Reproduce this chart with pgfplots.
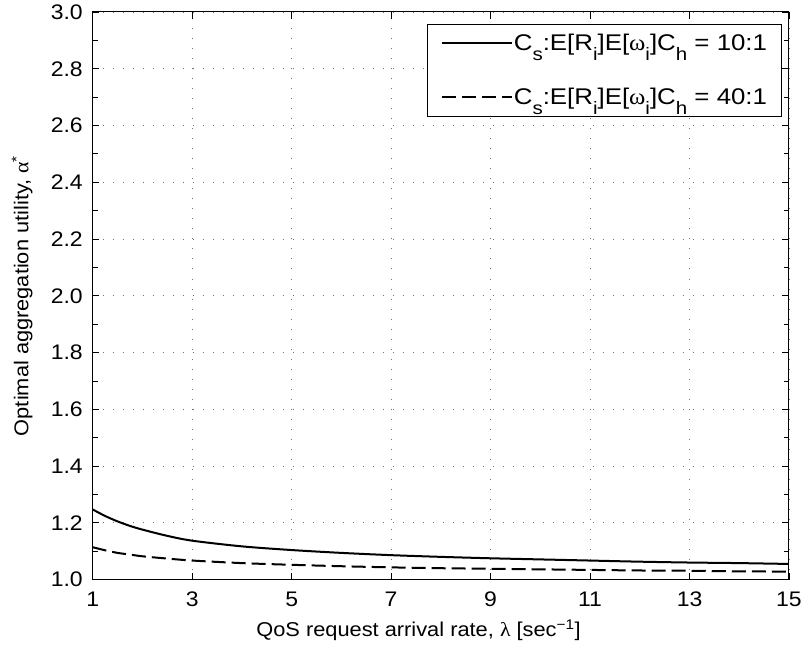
\documentclass[border=0pt]{standalone}
\usepackage{fontspec}
\setmainfont{Liberation Sans}[FakeStretch=1.09]
\newfontfamily\symf{Liberation Serif}[FakeStretch=1.09]
\usepackage{pgfplots}
\pgfplotsset{compat=1.18}
\newcommand{\sub}[1]{\raisebox{-7.5pt}{\fontsize{13.5}{13}\selectfont #1}}
\begin{document}
\begin{tikzpicture}
\begin{axis}[
  scale only axis, width=522pt, height=425.5pt,
  xmin=1, xmax=15, ymin=1, ymax=3,
  xtick={1,3,5,7,9,11,13,15},
  ytick={1.0,1.2,1.4,1.6,1.8,2.0,2.2,2.4,2.6,2.8,3.0},
  minor y tick num=1,
  tick align=inside,
  major tick length=5pt, minor tick length=4pt,
  axis line style={line width=0.75pt},
  every tick/.style={black, line width=0.6pt},
  grid=major,
  major grid style={black!55, line width=0.6pt, dash pattern=on 0.7pt off 6.8pt},
  /pgf/number format/assume math mode=true,
  ticklabel style={font=\fontsize{15.8}{16}\selectfont},
  yticklabel style={/pgf/number format/fixed, /pgf/number format/fixed zerofill, /pgf/number format/precision=1, inner sep=0pt, anchor=east, xshift=-7.3pt},
  xticklabel style={inner sep=0pt, anchor=north, yshift=-9.3pt},
  xlabel={QoS request arrival rate, {\symf λ} [sec\textsuperscript{−1}]},
  ylabel={Optimal aggregation utility, {\symf α}\textsuperscript{*}},
  label style={font=\fontsize{15}{16}\selectfont},
  xlabel style={at={(axis description cs:0.468,-0.1011)}, anchor=base, inner sep=0pt},
  ylabel style={at={(axis description cs:-0.0923,0.5)}, anchor=base, inner sep=0pt},
  legend style={at={(rel axis cs:1,1)}, anchor=north east, xshift=-5.25pt, yshift=-9pt,
    draw=black, line width=0.75pt, fill=white,
    font=\fontsize{17}{16}\selectfont\addfontfeatures{FakeStretch=1.14},
    inner xsep=10pt, inner ysep=6.5pt, row sep=25pt,
    nodes={inner sep=0.8pt}},
  legend cell align=left,
  legend image code/.code={\draw[#1] (0pt,0pt) -- (52.5pt,0pt);},
]
\addplot[black, line width=1.5pt, smooth] coordinates {
(1,1.247) (1.25,1.224) (1.5,1.205) (1.75,1.189) (2,1.176) (2.5,1.154) (3,1.137)
(4,1.117) (5,1.104) (6,1.094) (7,1.086) (8,1.080) (9,1.075) (10,1.071)
(11,1.067) (12,1.063) (13,1.060) (14,1.058) (15,1.055)};
\addlegendentry{C\sub{s}:E[R\sub{i}]E[{\symf ω}\sub{i}]C\sub{h} = 10:1}
\addplot[black, line width=1.5pt, dash pattern=on 10.5pt off 4.5pt, smooth] coordinates {
(1,1.114) (1.25,1.103) (1.5,1.094) (1.75,1.088) (2,1.082) (2.5,1.074) (3,1.067)
(4,1.058) (5,1.052) (6,1.047) (7,1.043) (8,1.040) (9,1.038) (10,1.036)
(11,1.034) (12,1.032) (13,1.031) (14,1.029) (15,1.028)};
\addlegendentry{C\sub{s}:E[R\sub{i}]E[{\symf ω}\sub{i}]C\sub{h} = 40:1}
\coordinate (sw) at (rel axis cs:0,0);
\coordinate (ne) at (rel axis cs:1,1);
\end{axis}
\pgfresetboundingbox
\path ([shift={(-69.5pt,-59pt)}]sw) rectangle ([shift={(11.25pt,9pt)}]ne);
\end{tikzpicture}
\end{document}
